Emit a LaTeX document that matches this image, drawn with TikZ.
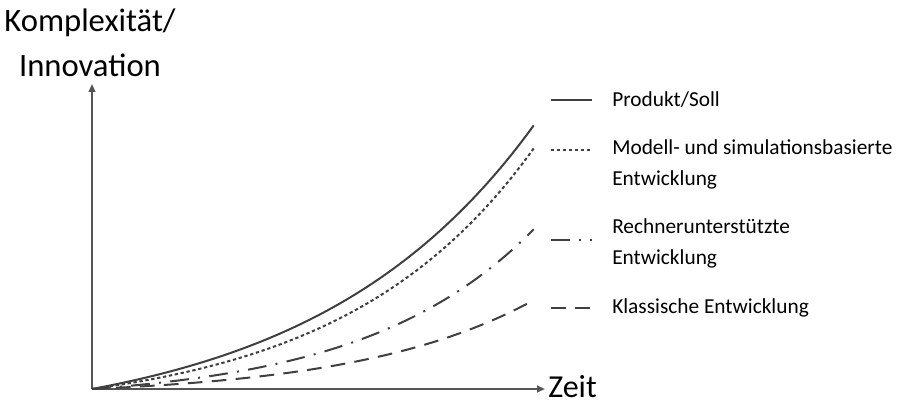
\documentclass[tikz,border=0pt]{standalone}
\usepackage{fontspec}
\setmainfont{Carlito}
\usetikzlibrary{positioning,arrows.meta}
\definecolor{curvegray}{HTML}{404040}
\definecolor{axisgray}{HTML}{555555}
\begin{document}
\begin{tikzpicture}[x=0.75pt,y=0.75pt,
  curve/.style={line width=1.5pt, color=curvegray},
  soll/.style={curve},
  modell/.style={curve, dash pattern=on 2.5pt off 2pt},
  rechner/.style={curve, dash pattern=on 14pt off 7pt on 1.5pt off 7pt},
  klassisch/.style={curve, dash pattern=on 11pt off 7pt},
  axis/.style={line width=1.4pt, color=axisgray, -{Triangle[length=6pt,width=5pt]}},
  legtext/.style={anchor=west, align=left, font=\fontsize{16}{23.5}\selectfont, inner sep=0pt}]
\useasboundingbox (0,0) rectangle (897,402);

% axes
\coordinate (o) at (92,13);
\coordinate (ytop) at (92,318);
\coordinate (xend) at (545,13);
\draw[axis] (o) -- (ytop);
\draw[axis] (o) -- (xend);
\node[align=center, font=\fontsize{24.5}{34}\selectfont, inner sep=0pt] (ylabel) at (90,359) {Komplexität/\\Innovation};
\node[anchor=west, font=\fontsize{24}{30}\selectfont, inner sep=0pt] (xlabel) at (548,15) {Zeit};

% curves (exponential growth)
\draw[soll] plot[domain=0:1, samples=80] ({92+442*\x},{13+264*(exp(2.0*\x)-1)/(exp(2.0)-1)});
\draw[modell] plot[domain=0:1, samples=80] ({92+442*\x},{13+241*(exp(2.3*\x)-1)/(exp(2.3)-1)});
\draw[rechner] plot[domain=0:1, samples=80] ({92+442*\x},{13+160*(exp(2.6*\x)-1)/(exp(2.6)-1)});
\draw[klassisch] plot[domain=0:1, samples=80] ({92+442*\x},{13+89*(exp(2.5*\x)-1)/(exp(2.5)-1)});

% legend
\node[legtext] (lsoll) at (612,302) {Produkt/Soll};
\node[legtext] (lmodell) at (612,237.5) {Modell- und simulationsbasierte\\Entwicklung};
\node[legtext] (lrechner) at (612,158.5) {Rechnerunterstützte\\Entwicklung};
\node[legtext] (lklassisch) at (612,94) {Klassische Entwicklung};
\draw[soll] (551,302) -- (592,302);
\draw[modell] (551,252) -- (592,252);
\draw[rechner] (551,162) -- (592,162);
\draw[klassisch] (551,94) -- (592,94);
\end{tikzpicture}
\end{document}
